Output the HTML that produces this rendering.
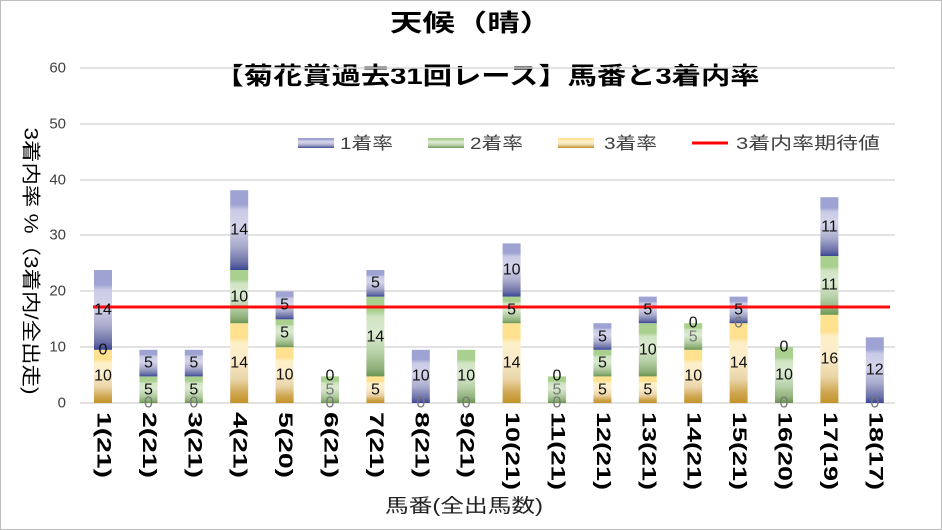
<!DOCTYPE html>
<html><head><meta charset="utf-8"><style>
html,body{margin:0;padding:0;background:#fff}
svg{display:block;font-family:"Liberation Sans","Noto Sans CJK JP",sans-serif}
</style></head><body>
<svg width="942" height="530" viewBox="0 0 942 530" xmlns="http://www.w3.org/2000/svg">
<defs>
<linearGradient id="gB" x1="0" y1="1" x2="0" y2="0">
<stop offset="0" stop-color="#3c4796"/><stop offset="0.1" stop-color="#6c72a8"/><stop offset="0.3" stop-color="#a8abcc"/><stop offset="0.55" stop-color="#d4d5ea"/><stop offset="0.75" stop-color="#c9cbe6"/><stop offset="0.82" stop-color="#9ea3d3"/><stop offset="1" stop-color="#9ea3d3"/>
</linearGradient>
<linearGradient id="gG" x1="0" y1="1" x2="0" y2="0">
<stop offset="0" stop-color="#6a9450"/><stop offset="0.1" stop-color="#8fb07a"/><stop offset="0.3" stop-color="#b8d1a8"/><stop offset="0.55" stop-color="#dbead1"/><stop offset="0.75" stop-color="#cfe4c2"/><stop offset="0.82" stop-color="#a9d08e"/><stop offset="1" stop-color="#a9d08e"/>
</linearGradient>
<linearGradient id="gY" x1="0" y1="1" x2="0" y2="0">
<stop offset="0" stop-color="#c29428"/><stop offset="0.12" stop-color="#cfa650"/><stop offset="0.3" stop-color="#ead5a8"/><stop offset="0.55" stop-color="#fbeccb"/><stop offset="0.75" stop-color="#fdf0c8"/><stop offset="0.82" stop-color="#ffe08e"/><stop offset="1" stop-color="#ffe391"/>
</linearGradient>
</defs>
<rect x="0.5" y="0.5" width="941" height="529" fill="#fff" stroke="#bdbdbd"/>
<text x="471" y="31" text-anchor="middle" font-size="24" font-weight="bold" textLength="162" lengthAdjust="spacingAndGlyphs">天候（晴）</text>
<text x="487" y="84" text-anchor="middle" font-size="24" font-weight="bold" textLength="545" lengthAdjust="spacingAndGlyphs">【菊花賞過去31回レース】馬番と3着内率</text>
<g stroke="#d9d9d9" stroke-width="1.5">
<line x1="80" x2="895" y1="68" y2="68"/><line x1="80" x2="895" y1="124" y2="124"/><line x1="80" x2="895" y1="180" y2="180"/><line x1="80" x2="895" y1="235" y2="235"/><line x1="80" x2="895" y1="291" y2="291"/><line x1="80" x2="895" y1="347" y2="347"/><line x1="80" x2="895" y1="403" y2="403"/>
</g>
<g font-size="15" fill="#404040" text-anchor="end" dominant-baseline="central">
<text x="66" y="68">60</text><text x="66" y="124">50</text><text x="66" y="180">40</text><text x="66" y="235">30</text><text x="66" y="291">20</text><text x="66" y="347">10</text><text x="66" y="403">0</text>
</g>
<text transform="translate(30,261) rotate(90)" text-anchor="middle" dominant-baseline="central" font-size="19" textLength="267" lengthAdjust="spacingAndGlyphs">3着内率 %（3着内/全出走)</text>
<!-- legend -->
<rect x="298" y="138" width="36" height="10" fill="url(#gB)"/><text x="340" y="149" font-size="17" fill="#404040" textLength="53" lengthAdjust="spacingAndGlyphs">1着率</text>
<rect x="428" y="138" width="36" height="10" fill="url(#gG)"/><text x="470" y="149" font-size="17" fill="#404040" textLength="53" lengthAdjust="spacingAndGlyphs">2着率</text>
<rect x="558" y="138" width="36" height="10" fill="url(#gY)"/><text x="604" y="149" font-size="17" fill="#404040" textLength="53" lengthAdjust="spacingAndGlyphs">3着率</text>
<line x1="692" x2="728" y1="143" y2="143" stroke="#ff0000" stroke-width="3"/><text x="736" y="149" font-size="17" fill="#404040" textLength="144" lengthAdjust="spacingAndGlyphs">3着内率期待値</text>
<!-- bars -->
<g>
<rect x="94" y="349.8" width="18" height="53.2" fill="url(#gY)"/><rect x="94" y="270" width="18" height="79.8" fill="url(#gB)"/>
<rect x="139.4" y="376.4" width="18" height="26.6" fill="url(#gG)"/><rect x="139.4" y="349.8" width="18" height="26.6" fill="url(#gB)"/>
<rect x="184.8" y="376.4" width="18" height="26.6" fill="url(#gG)"/><rect x="184.8" y="349.8" width="18" height="26.6" fill="url(#gB)"/>
<rect x="230.2" y="323.2" width="18" height="79.8" fill="url(#gY)"/><rect x="230.2" y="270" width="18" height="53.2" fill="url(#gG)"/><rect x="230.2" y="190.2" width="18" height="79.8" fill="url(#gB)"/>
<rect x="275.6" y="347.2" width="18" height="55.8" fill="url(#gY)"/><rect x="275.6" y="319.3" width="18" height="27.9" fill="url(#gG)"/><rect x="275.6" y="291.4" width="18" height="27.9" fill="url(#gB)"/>
<rect x="321" y="376.4" width="18" height="26.6" fill="url(#gG)"/>
<rect x="366.4" y="376.4" width="18" height="26.6" fill="url(#gY)"/><rect x="366.4" y="296.6" width="18" height="79.8" fill="url(#gG)"/><rect x="366.4" y="270" width="18" height="26.6" fill="url(#gB)"/>
<rect x="411.8" y="349.8" width="18" height="53.2" fill="url(#gB)"/>
<rect x="457.2" y="349.8" width="18" height="53.2" fill="url(#gG)"/>
<rect x="502.6" y="323.2" width="18" height="79.8" fill="url(#gY)"/><rect x="502.6" y="296.6" width="18" height="26.6" fill="url(#gG)"/><rect x="502.6" y="243.4" width="18" height="53.2" fill="url(#gB)"/>
<rect x="548" y="376.4" width="18" height="26.6" fill="url(#gG)"/>
<rect x="593.4" y="376.4" width="18" height="26.6" fill="url(#gY)"/><rect x="593.4" y="349.8" width="18" height="26.6" fill="url(#gG)"/><rect x="593.4" y="323.2" width="18" height="26.6" fill="url(#gB)"/>
<rect x="638.8" y="376.4" width="18" height="26.6" fill="url(#gY)"/><rect x="638.8" y="323.2" width="18" height="53.2" fill="url(#gG)"/><rect x="638.8" y="296.6" width="18" height="26.6" fill="url(#gB)"/>
<rect x="684.2" y="349.8" width="18" height="53.2" fill="url(#gY)"/><rect x="684.2" y="323.2" width="18" height="26.6" fill="url(#gG)"/>
<rect x="729.6" y="323.2" width="18" height="79.8" fill="url(#gY)"/><rect x="729.6" y="296.6" width="18" height="26.6" fill="url(#gB)"/>
<rect x="775" y="347.2" width="18" height="55.8" fill="url(#gG)"/>
<rect x="820.4" y="314.8" width="18" height="88.2" fill="url(#gY)"/><rect x="820.4" y="256" width="18" height="58.8" fill="url(#gG)"/><rect x="820.4" y="197.2" width="18" height="58.8" fill="url(#gB)"/>
<rect x="865.8" y="337.3" width="18" height="65.7" fill="url(#gB)"/>
</g>
<line x1="93" x2="890" y1="307" y2="307" stroke="#ff0000" stroke-width="3" opacity="0.95"/>
<!-- data labels -->
<g font-size="16" fill="#111" text-anchor="middle" dominant-baseline="central">
<text x="103" y="376">10</text><text x="103" y="350">0</text><text x="103" y="310">14</text>
<text x="148.4" y="390">5</text><text x="148.4" y="363">5</text>
<text x="193.8" y="390">5</text><text x="193.8" y="363">5</text>
<text x="239.2" y="363">14</text><text x="239.2" y="297">10</text><text x="239.2" y="230">14</text>
<text x="284.6" y="375">10</text><text x="284.6" y="333">5</text><text x="284.6" y="305">5</text>
<text x="330" y="376">0</text>
<text x="375.4" y="390">5</text><text x="375.4" y="337">14</text><text x="375.4" y="283">5</text>
<text x="420.8" y="376">10</text>
<text x="466.2" y="376">10</text>
<text x="511.6" y="363">14</text><text x="511.6" y="310">5</text><text x="511.6" y="270">10</text>
<text x="557" y="376">0</text>
<text x="602.4" y="390">5</text><text x="602.4" y="363">5</text><text x="602.4" y="337">5</text>
<text x="647.8" y="390">5</text><text x="647.8" y="350">10</text><text x="647.8" y="310">5</text>
<text x="693.2" y="376">10</text><text x="693.2" y="323">0</text>
<text x="738.6" y="363">14</text><text x="738.6" y="310">5</text>
<text x="784" y="375">10</text><text x="784" y="347">0</text>
<text x="829.4" y="359">16</text><text x="829.4" y="285">11</text><text x="829.4" y="227">11</text>
<text x="874.8" y="370">12</text>
</g>
<g font-size="16" fill="#777" text-anchor="middle" dominant-baseline="central">
<text x="148.4" y="403">0</text><text x="193.8" y="403">0</text>
<text x="330" y="403">0</text><text x="330" y="390">5</text>
<text x="420.8" y="403">0</text><text x="466.2" y="403">0</text>
<text x="557" y="403">0</text><text x="557" y="390">5</text>
<text x="693.2" y="337">5</text><text x="738.6" y="323">0</text>
<text x="784" y="403">0</text><text x="874.8" y="403">0</text>
</g>
<!-- x labels -->
<g font-size="19" font-weight="bold" dominant-baseline="central" lengthAdjust="spacingAndGlyphs">
<text transform="translate(103,412) rotate(90)" textLength="66" lengthAdjust="spacingAndGlyphs">1(21)</text>
<text transform="translate(148.4,412) rotate(90)" textLength="66" lengthAdjust="spacingAndGlyphs">2(21)</text>
<text transform="translate(193.8,412) rotate(90)" textLength="66" lengthAdjust="spacingAndGlyphs">3(21)</text>
<text transform="translate(239.2,412) rotate(90)" textLength="66" lengthAdjust="spacingAndGlyphs">4(21)</text>
<text transform="translate(284.6,412) rotate(90)" textLength="66" lengthAdjust="spacingAndGlyphs">5(20)</text>
<text transform="translate(330,412) rotate(90)" textLength="66" lengthAdjust="spacingAndGlyphs">6(21)</text>
<text transform="translate(375.4,412) rotate(90)" textLength="66" lengthAdjust="spacingAndGlyphs">7(21)</text>
<text transform="translate(420.8,412) rotate(90)" textLength="66" lengthAdjust="spacingAndGlyphs">8(21)</text>
<text transform="translate(466.2,412) rotate(90)" textLength="66" lengthAdjust="spacingAndGlyphs">9(21)</text>
<text transform="translate(511.6,412) rotate(90)" textLength="78" lengthAdjust="spacingAndGlyphs">10(21)</text>
<text transform="translate(557,412) rotate(90)" textLength="78" lengthAdjust="spacingAndGlyphs">11(21)</text>
<text transform="translate(602.4,412) rotate(90)" textLength="78" lengthAdjust="spacingAndGlyphs">12(21)</text>
<text transform="translate(647.8,412) rotate(90)" textLength="78" lengthAdjust="spacingAndGlyphs">13(21)</text>
<text transform="translate(693.2,412) rotate(90)" textLength="78" lengthAdjust="spacingAndGlyphs">14(21)</text>
<text transform="translate(738.6,412) rotate(90)" textLength="78" lengthAdjust="spacingAndGlyphs">15(21)</text>
<text transform="translate(784,412) rotate(90)" textLength="78" lengthAdjust="spacingAndGlyphs">16(20)</text>
<text transform="translate(829.4,412) rotate(90)" textLength="78" lengthAdjust="spacingAndGlyphs">17(19)</text>
<text transform="translate(874.8,412) rotate(90)" textLength="78" lengthAdjust="spacingAndGlyphs">18(17)</text>
</g>
<text x="464" y="512" text-anchor="middle" font-size="19" fill="#222" textLength="158" lengthAdjust="spacingAndGlyphs">馬番(全出馬数)</text>
</svg>
</body></html>
